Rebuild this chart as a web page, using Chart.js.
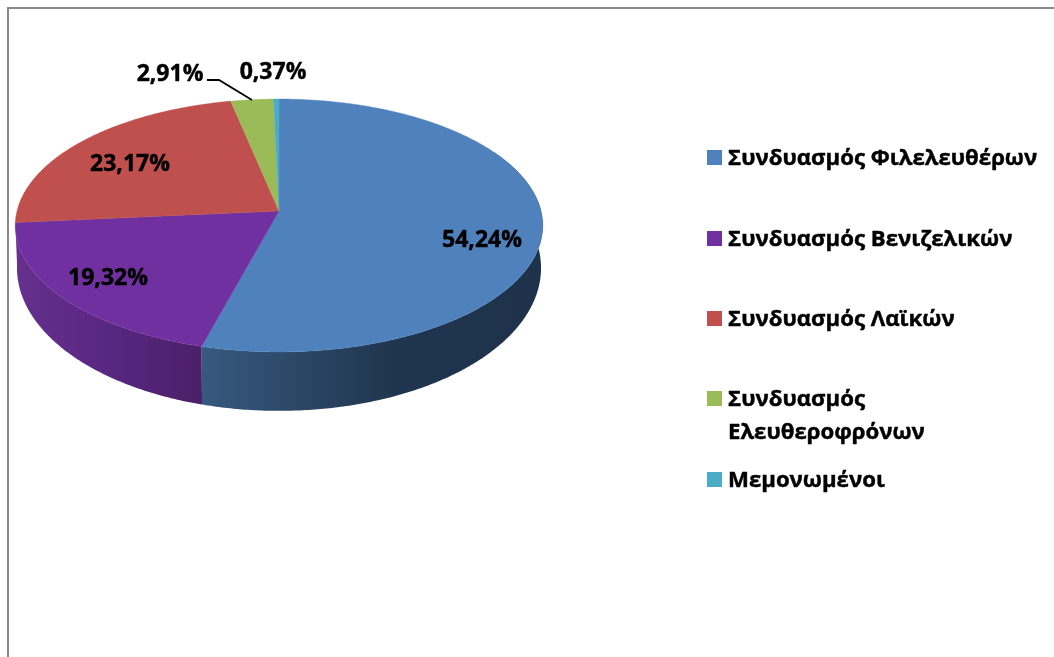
<!DOCTYPE html>
<html><head><meta charset="utf-8">
<style>html,body{margin:0;padding:0;background:#fff}canvas{display:block}</style>
<script src="https://cdn.jsdelivr.net/npm/chart.js@4/dist/chart.umd.min.js"></script>
</head><body><canvas id="c" width="1054" height="657"></canvas>
<script>
const categories = ["Συνδυασμός Φιλελευθέρων","Συνδυασμός Βενιζελικών","Συνδυασμός Λαϊκών","Συνδυασμός Ελευθεροφρόνων","Μεμονωμένοι"];
const shares = [54.24,19.32,23.17,2.91,0.37];
const sliceColors = ["#4f81bd","#7030a0","#c0504d","#9bbb59","#4bacc6"];

// layout only
const FONT = '"Open Sans", sans-serif';
const cx = 279, persp = 0.1146;
const topRim = {y0:211, A:262, B:124.8};
const lowRim = {y0:251.6, A:260.3, B:141};
const walls = [
  {i:0, from:60, stops:[[203,'#37597f'],[300,'#2b4765'],[400,'#1f344e'],[543,'#1e324b']]},
  {i:1, stops:[[16,'#65308e'],[110,'#582780'],[203,'#4b1f68']]}
];
const labelAt = [[482,240],[108,278],[130,164],[170,74],[273,72]];
const legendRows = [
  {y:165, lines:[categories[0]]},
  {y:246, lines:[categories[1]]},
  {y:326, lines:[categories[2]]},
  {y:406, lines:["Συνδυασμός","Ελευθεροφρόνων"]},
  {y:487, lines:[categories[4]]}
];

function project(theta, rim){
  const u = Math.sin(theta), v = -Math.cos(theta), d = 1 - persp*v;
  return [cx + rim.A*u/d, rim.y0 + rim.B*v/d];
}
function rimPath(ctx, a, b, rim, first){
  const n = Math.max(2, Math.ceil(Math.abs(b-a)/0.01));
  for(let s=0;s<=n;s++){
    const p = project(a+(b-a)*s/n, rim);
    if(first && s===0) ctx.moveTo(p[0],p[1]); else ctx.lineTo(p[0],p[1]);
  }
}
function boldText(ctx, t, x, y){
  ctx.fillText(t,x,y);
  ctx.strokeText(t,x,y);
}
const pie3d = {
  id:'pie3d',
  beforeDraw(chart){
    const ctx = chart.ctx;
    ctx.save();
    ctx.fillStyle='#8a8a8a';
    ctx.fillRect(7,7,1047,2);
    ctx.fillRect(7,7,2,650);
    ctx.restore();
  },
  beforeDatasetDraw(chart, args){
    const ctx = chart.ctx, arcs = chart.getDatasetMeta(args.index).data;
    const th = arcs.map(a=>[a.startAngle+Math.PI/2, a.endAngle+Math.PI/2]);
    ctx.save();
    // side walls
    walls.forEach(w=>{
      const a = w.from!==undefined ? w.from*Math.PI/180 : th[w.i][0];
      const b = th[w.i][1];
      const x0=w.stops[0][0], x1=w.stops[w.stops.length-1][0];
      const g = ctx.createLinearGradient(x0,0,x1,0);
      w.stops.forEach(s=>g.addColorStop((s[0]-x0)/(x1-x0),s[1]));
      ctx.beginPath();
      rimPath(ctx,a,b,topRim,true);
      rimPath(ctx,b,a,lowRim,false);
      ctx.closePath();
      ctx.fillStyle=g; ctx.fill();
    });
    // top face
    arcs.forEach((arc,i)=>{
      ctx.beginPath();
      ctx.moveTo(cx,topRim.y0);
      rimPath(ctx,th[i][0],th[i][1],topRim,false);
      ctx.closePath();
      ctx.fillStyle=sliceColors[i]; ctx.fill();
      ctx.strokeStyle=sliceColors[i]; ctx.lineWidth=0.4; ctx.stroke();
    });
    ctx.restore();
    return false;
  },
  afterDatasetsDraw(chart){
    const ctx = chart.ctx;
    ctx.save();
    // leader line
    ctx.strokeStyle='#000'; ctx.lineWidth=1.8;
    ctx.beginPath(); ctx.moveTo(207,80); ctx.lineTo(219,80); ctx.lineTo(252,100); ctx.stroke();
    // value labels
    ctx.fillStyle='#000'; ctx.strokeStyle='#000'; ctx.lineWidth=0.45; ctx.lineJoin='round';
    ctx.font='bold 23px '+FONT;
    ctx.textAlign='center'; ctx.textBaseline='middle';
    shares.forEach((v,i)=>{
      boldText(ctx,v.toFixed(2).replace('.',',')+'%',labelAt[i][0],labelAt[i][1]);
    });
    // legend
    ctx.textAlign='left'; ctx.textBaseline='alphabetic';
    ctx.font='bold 22.2px '+FONT;
    legendRows.forEach((r,i)=>{
      ctx.fillStyle=sliceColors[i];
      ctx.fillRect(707,r.y-15,15,15);
      ctx.fillStyle='#000';
      r.lines.forEach((t,k)=>boldText(ctx,t,728,r.y+k*33));
    });
    ctx.restore();
  }
};
new Chart(document.getElementById('c'),{
  type:'pie',
  data:{labels:categories,datasets:[{data:shares,backgroundColor:sliceColors,borderWidth:0}]},
  options:{responsive:false,animation:false,rotation:0,
    plugins:{legend:{display:false},tooltip:{enabled:false}}},
  plugins:[pie3d]
});
</script></body></html>
